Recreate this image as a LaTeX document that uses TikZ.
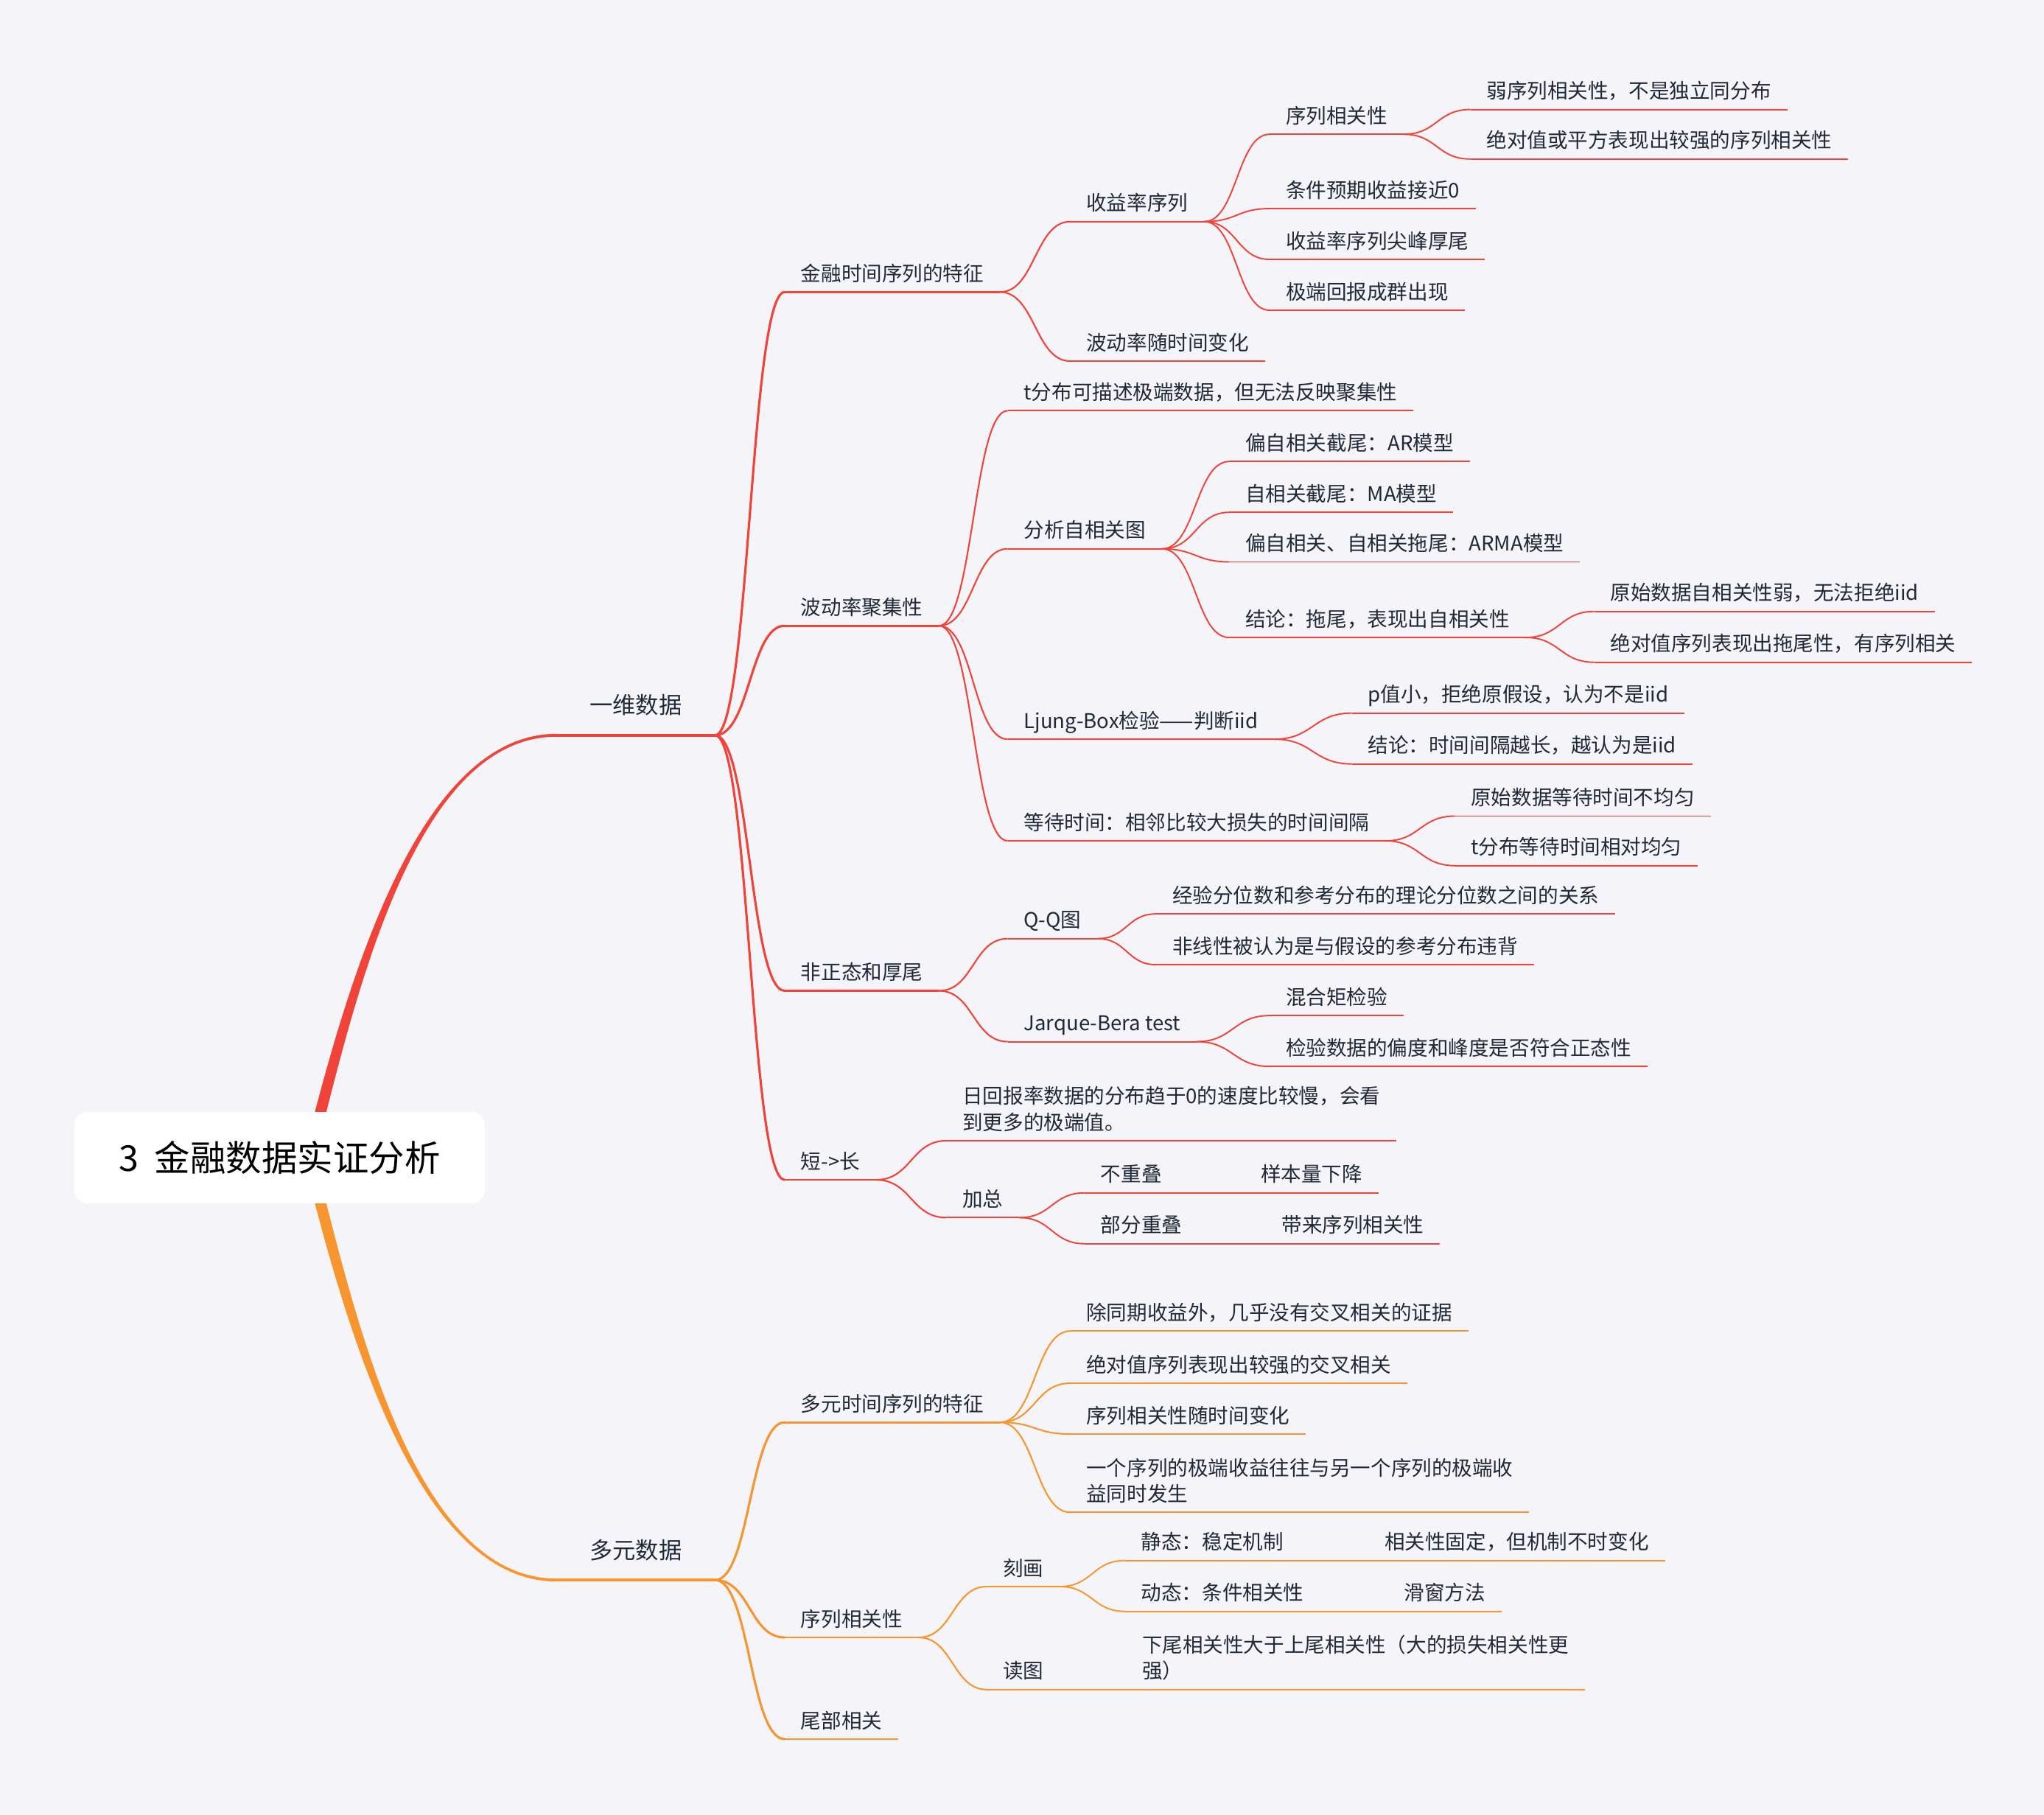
\documentclass[tikz,border=0pt]{standalone}
\usepackage{fontspec}
\setmainfont{Noto Sans CJK SC}
\usetikzlibrary{calc}
\definecolor{bgc}{HTML}{F5F5F9}
\definecolor{rd}{HTML}{F0433A}
\definecolor{og}{HTML}{F7962F}
\definecolor{txc}{HTML}{1F2937}
\pgfdeclarelayer{bglayer}
\pgfsetlayers{bglayer,main}
\tikzset{
  topic/.style={anchor=south west, inner xsep=0.2124cm, inner ysep=0.106cm, text depth=0.0354cm,
    text=txc, font=\fontsize{7.85pt}{10.05pt}\selectfont, align=left},
  bigtopic/.style={anchor=south west, inner xsep=0.4425cm, inner ysep=0.248cm, text depth=0.0354cm,
    text=txc, font=\fontsize{8.9pt}{11pt}\selectfont},
  rootbox/.style={fill=white, rounded corners=0.18cm, minimum width=5.5755cm, minimum height=1.239cm,
    inner sep=0pt, text=black, font=\fontsize{13.8pt}{16pt}\selectfont},
  ulA/.style={line width=1.0pt, line cap=round},
  ulB/.style={line width=0.8pt},
  ulC/.style={line width=0.55pt},
  cnA/.style={line width=0.9pt},
  cnB/.style={line width=0.6pt},
  cnC/.style={line width=0.55pt},
}
\newcommand\lnk[3]{%
  \path ($(#2.south east)!0.5!(#3.south west)$) coordinate (lkm);
  \draw[#1] (#2.south east) .. controls (#2.south east -| lkm) and (#3.south west -| lkm) .. (#3.south west);}
\newcommand\ul[2]{\draw[#1] (#2.south west) -- (#2.south east);}
\begin{document}
\begin{tikzpicture}[x=0.0177cm,y=-0.0177cm]
\useasboundingbox (0,0) rectangle (1568,1392);

% root
\node[rootbox] (root) at (214.5,888) {3\hspace{0.45em}金融数据实证分析};

% ---------- red subtree ----------
\node[bigtopic] (yw) at (427,564) {一维数据};
\node[topic] (jr) at (602,224) {金融时间序列的特征};
\node[topic] (sy) at (821,170) {收益率序列};
\node[topic] (xg) at (974,103) {序列相关性};
\node[topic] (r1) at (1128,84) {弱序列相关性，不是独立同分布};
\node[topic] (r2) at (1128,122) {绝对值或平方表现出较强的序列相关性};
\node[topic] (tj) at (974,160) {条件预期收益接近0};
\node[topic] (jf) at (974,199) {收益率序列尖峰厚尾};
\node[topic] (jd) at (974,238) {极端回报成群出现};
\node[topic] (bd) at (821,277) {波动率随时间变化};
\node[topic] (jj) at (602,480) {波动率聚集性};
\node[topic] (tf) at (773,315) {t分布可描述极端数据，但无法反映聚集性};
\node[topic] (fx) at (773,421) {分析自相关图};
\node[topic] (a1) at (943,354) {偏自相关截尾：AR模型};
\node[topic] (a2) at (943,393) {自相关截尾：MA模型};
\node[topic] (a3) at (943,431) {偏自相关、自相关拖尾：ARMA模型};
\node[topic] (a4) at (943,489) {结论：拖尾，表现出自相关性};
\node[topic] (a41) at (1223,469) {原始数据自相关性弱，无法拒绝iid};
\node[topic] (a42) at (1223,508) {绝对值序列表现出拖尾性，有序列相关};
\node[topic] (lb) at (773,567) {Ljung-Box检验——判断iid};
\node[topic] (lb1) at (1037,547) {p值小，拒绝原假设，认为不是iid};
\node[topic] (lb2) at (1037,586) {结论：时间间隔越长，越认为是iid};
\node[topic] (dd) at (773,645) {等待时间：相邻比较大损失的时间间隔};
\node[topic] (dd1) at (1116,626) {原始数据等待时间不均匀};
\node[topic] (dd2) at (1116,664) {t分布等待时间相对均匀};
\node[topic] (fz) at (602,760) {非正态和厚尾};
\node[topic] (qq) at (773,720) {Q-Q图};
\node[topic] (qq1) at (887,701) {经验分位数和参考分布的理论分位数之间的关系};
\node[topic] (qq2) at (887,740) {非线性被认为是与假设的参考分布违背};
\node[topic] (jb) at (773,799) {Jarque-Bera test};
\node[topic] (jb1) at (974,779) {混合矩检验};
\node[topic] (jb2) at (974,818) {检验数据的偏度和峰度是否符合正态性};
\node[topic] (dc) at (602,905) {短->长};
\node[topic] (dc1) at (726,875) {日回报率数据的分布趋于0的速度比较慢，会看\\到更多的极端值。};
\node[topic] (jz) at (726,934) {加总};
\node[topic, text width=1.735cm] (bc) at (832,915) {不重叠};
\node[topic] (yb) at (bc.south east) {样本量下降};
\node[topic, text width=2.018cm] (bf) at (832,954) {部分重叠};
\node[topic] (dl) at (bf.south east) {带来序列相关性};

% ---------- orange subtree ----------
\node[bigtopic] (dy) at (427,1212) {多元数据};
\node[topic] (ds) at (602,1091) {多元时间序列的特征};
\node[topic] (o1) at (821,1021) {除同期收益外，几乎没有交叉相关的证据};
\node[topic] (o2) at (821,1061) {绝对值序列表现出较强的交叉相关};
\node[topic] (o3) at (821,1100) {序列相关性随时间变化};
\node[topic] (o4) at (821,1160) {一个序列的极端收益往往与另一个序列的极端收\\益同时发生};
\node[topic] (ox) at (602,1256) {序列相关性};
\node[topic] (kh) at (757,1217) {刻画};
\node[topic, text width=2.867cm] (jt) at (863,1197) {静态：稳定机制};
\node[topic] (jt1) at (jt.south east) {相关性固定，但机制不时变化};
\node[topic, text width=3.133cm] (dt) at (863,1236) {动态：条件相关性};
\node[topic] (dt1) at (dt.south east) {滑窗方法};
\node[topic, text width=1.451cm] (dtu) at (757,1296) {读图};
\node[topic] (dtc) at (dtu.south east) {下尾相关性大于上尾相关性（大的损失相关性更\\强）};
\node[topic] (wb) at (602,1334) {尾部相关};

% ---------- background and main branches ----------
\begin{pgfonlayer}{bglayer}
\fill[bgc] (0,0) rectangle (1568,1392);
\fill[rd] ($(root.center)+(18,0)$) .. controls ($(root.center)+(48.5,-120)$) and ($(yw.south west)+(-110,-1.1)$) .. ($(yw.south west)+(0,-1.1)$)
  -- ($(yw.south west)+(0,1.1)$) .. controls ($(yw.south west)+(-110,1.1)$) and ($(root.center)+(57.5,-120)$) .. ($(root.center)+(27,0)$) -- cycle;
\fill[og] ($(root.center)+(18,0)$) .. controls ($(root.center)+(48.5,120)$) and ($(dy.south west)+(-110,1.1)$) .. ($(dy.south west)+(0,1.1)$)
  -- ($(dy.south west)+(0,-1.1)$) .. controls ($(dy.south west)+(-110,-1.1)$) and ($(root.center)+(57.5,120)$) .. ($(root.center)+(27,0)$) -- cycle;
\end{pgfonlayer}

% ---------- underlines ----------
\ul{ulA,draw=rd}{yw}
\foreach \n in {jr,jj,fz,dc} {\ul{ulB,draw=rd}{\n}}
\foreach \n in {sy,xg,r1,r2,tj,jf,jd,bd,tf,fx,a1,a2,a3,a4,a41,a42,lb,lb1,lb2,dd,dd1,dd2,qq,qq1,qq2,jb,jb1,jb2,dc1,jz,bc,yb,bf,dl} {\ul{ulC,draw=rd}{\n}}
\ul{ulA,draw=og}{dy}
\foreach \n in {ds,ox,wb} {\ul{ulB,draw=og}{\n}}
\foreach \n in {o1,o2,o3,o4,kh,jt,jt1,dt,dt1,dtu,dtc} {\ul{ulC,draw=og}{\n}}

% ---------- connectors (red) ----------
\foreach \c in {jr,jj,fz,dc} {\lnk{cnA,draw=rd}{yw}{\c}}
\foreach \c in {sy,bd} {\lnk{cnB,draw=rd}{jr}{\c}}
\foreach \c in {tf,fx,lb,dd} {\lnk{cnB,draw=rd}{jj}{\c}}
\foreach \c in {qq,jb} {\lnk{cnB,draw=rd}{fz}{\c}}
\foreach \c in {dc1,jz} {\lnk{cnB,draw=rd}{dc}{\c}}
\foreach \c in {xg,tj,jf,jd} {\lnk{cnC,draw=rd}{sy}{\c}}
\foreach \c in {r1,r2} {\lnk{cnC,draw=rd}{xg}{\c}}
\foreach \c in {a1,a2,a3,a4} {\lnk{cnC,draw=rd}{fx}{\c}}
\foreach \c in {a41,a42} {\lnk{cnC,draw=rd}{a4}{\c}}
\foreach \c in {lb1,lb2} {\lnk{cnC,draw=rd}{lb}{\c}}
\foreach \c in {dd1,dd2} {\lnk{cnC,draw=rd}{dd}{\c}}
\foreach \c in {qq1,qq2} {\lnk{cnC,draw=rd}{qq}{\c}}
\foreach \c in {jb1,jb2} {\lnk{cnC,draw=rd}{jb}{\c}}
\foreach \c in {bc,bf} {\lnk{cnC,draw=rd}{jz}{\c}}
\draw[cnC,draw=rd] (bc.south east) -- (yb.south west);
\draw[cnC,draw=rd] (bf.south east) -- (dl.south west);

% ---------- connectors (orange) ----------
\foreach \c in {ds,ox,wb} {\lnk{cnA,draw=og}{dy}{\c}}
\foreach \c in {o1,o2,o3,o4} {\lnk{cnB,draw=og}{ds}{\c}}
\foreach \c in {kh,dtu} {\lnk{cnB,draw=og}{ox}{\c}}
\foreach \c in {jt,dt} {\lnk{cnC,draw=og}{kh}{\c}}
\draw[cnC,draw=og] (jt.south east) -- (jt1.south west);
\draw[cnC,draw=og] (dt.south east) -- (dt1.south west);
\draw[cnC,draw=og] (dtu.south east) -- (dtc.south west);
\end{tikzpicture}
\end{document}
